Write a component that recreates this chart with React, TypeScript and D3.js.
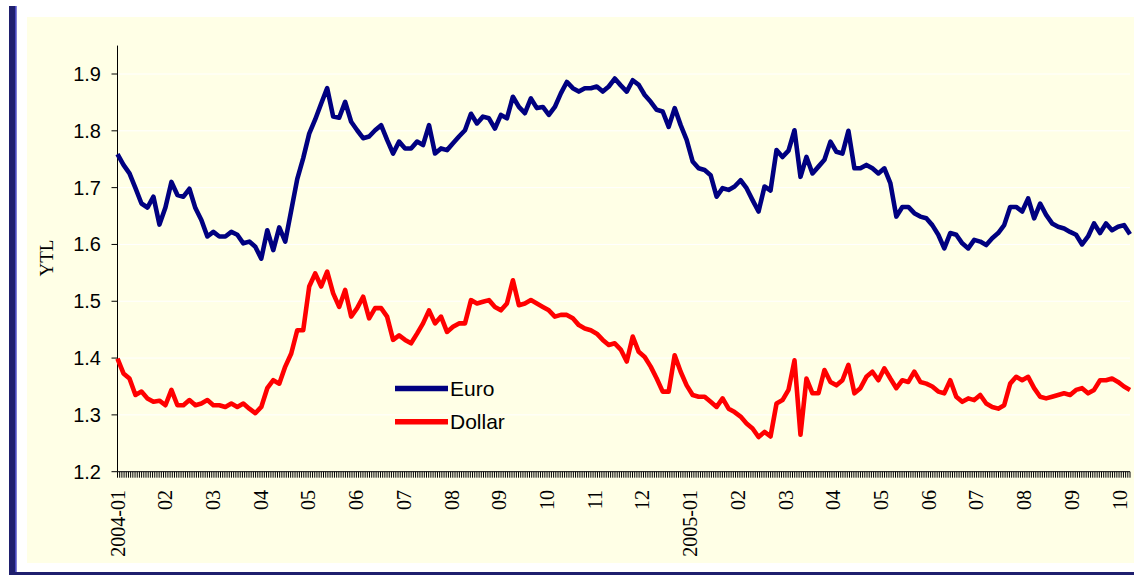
import React from "react";
import * as d3 from "d3";

const monthLabels = ["2004-01","02","03","04","05","06","07","08","09","10","11","12","2005-01","02","03","04","05","06","07","08","09","10"];
const yTicks = [1.2, 1.3, 1.4, 1.5, 1.6, 1.7, 1.8, 1.9];

const euro = [
1.759,1.740,1.725,1.699,1.672,1.665,1.684,1.635,1.665,1.710,
1.687,1.684,1.698,1.664,1.643,1.614,1.622,1.614,1.614,1.622,
1.617,1.602,1.605,1.596,1.575,1.625,1.590,1.630,1.605,1.660,
1.715,1.752,1.795,1.820,1.848,1.875,1.825,1.823,1.851,1.816,
1.801,1.787,1.790,1.801,1.810,1.784,1.760,1.781,1.769,1.769,
1.781,1.775,1.810,1.760,1.769,1.766,1.778,1.790,1.801,1.830,
1.813,1.825,1.822,1.804,1.828,1.822,1.860,1.842,1.831,1.857,
1.840,1.842,1.828,1.842,1.866,1.886,1.875,1.869,1.875,1.875,
1.878,1.869,1.878,1.892,1.880,1.869,1.889,1.881,1.863,1.851,
1.837,1.834,1.807,1.840,1.810,1.784,1.746,1.734,1.731,1.722,
1.684,1.699,1.696,1.702,1.713,1.699,1.678,1.658,1.702,1.695,
1.766,1.754,1.765,1.801,1.719,1.754,1.725,1.737,1.749,1.781,
1.763,1.760,1.800,1.734,1.734,1.740,1.734,1.725,1.734,1.708,
1.649,1.666,1.666,1.655,1.649,1.646,1.634,1.617,1.593,1.620,
1.617,1.602,1.593,1.608,1.605,1.599,1.611,1.620,1.634,1.666,
1.666,1.658,1.681,1.646,1.672,1.652,1.637,1.631,1.628,1.622,
1.617,1.600,1.614,1.637,1.620,1.637,1.625,1.631,1.634,1.618
];

const dollar = [
1.399,1.373,1.364,1.335,1.341,1.329,1.323,1.325,1.317,1.344,
1.317,1.317,1.326,1.317,1.320,1.326,1.317,1.317,1.314,1.320,
1.314,1.320,1.311,1.303,1.314,1.347,1.361,1.355,1.385,1.408,
1.449,1.449,1.526,1.549,1.526,1.552,1.514,1.490,1.520,1.473,
1.488,1.508,1.470,1.488,1.488,1.473,1.432,1.440,1.432,1.426,
1.443,1.461,1.484,1.461,1.473,1.446,1.455,1.461,1.461,1.502,
1.496,1.499,1.502,1.490,1.484,1.496,1.537,1.493,1.496,1.502,
1.496,1.490,1.484,1.473,1.476,1.476,1.470,1.458,1.452,1.449,
1.443,1.432,1.423,1.426,1.415,1.394,1.438,1.411,1.402,1.385,
1.364,1.341,1.341,1.405,1.376,1.352,1.335,1.332,1.332,1.323,
1.314,1.329,1.311,1.305,1.297,1.285,1.276,1.261,1.270,1.262,
1.320,1.326,1.344,1.396,1.265,1.364,1.338,1.338,1.379,1.358,
1.352,1.361,1.388,1.338,1.347,1.367,1.376,1.361,1.382,1.364,
1.347,1.361,1.358,1.376,1.358,1.355,1.350,1.341,1.338,1.361,
1.332,1.323,1.329,1.326,1.335,1.320,1.314,1.311,1.317,1.355,
1.367,1.361,1.367,1.347,1.332,1.329,1.332,1.335,1.338,1.335,
1.344,1.347,1.338,1.344,1.361,1.361,1.364,1.358,1.350,1.344
];

const seriesNames = ["Euro", "Dollar"];
const seriesColors = ["#000080", "#FF0000"];

export default function App() {
  const W = 1134, H = 575;
  const axisX = 117.5, plotRight = 1130;
  const y = d3.scaleLinear().domain([1.2, 1.9]).range([471.7, 74]);
  const xData = d3.scaleLinear().domain([0, euro.length - 1]).range([117.5, 1130]);
  const xMonth = d3.scaleLinear().domain([0, 21]).range([117.5, 1119.5]);
  const nDays = 462;
  const xDay = d3.scaleLinear().domain([0, nDays]).range([117.5, 1130]);
  const line = d3.line<number>().x((_, i) => xData(i)).y(d => y(d));
  const axisY = y(1.2);
  const topY = y(1.95);
  const dayTicks = d3.range(0, nDays + 1);

  return (
    <svg width={W} height={H} style={{ position: "absolute", left: 0, top: 0, background: "#fff" }}>
      <rect x={0} y={0} width={W} height={H} fill="#ffffff" />
      <rect x={27} y={17} width={W - 27} height={546} fill="#FFFFE6" />
      <rect x={9} y={6} width={6} height={H - 6} fill="#1F1F6E" />
      <rect x={15} y={6} width={1.7} height={H - 6} fill="#4A4AC0" />
      <rect x={9} y={572} width={W - 9} height={3} fill="#1F1F6E" />

      {yTicks.map(t => (
        <line key={"g" + t} x1={axisX} x2={plotRight} y1={y(t)} y2={y(t)} stroke="#ffffff" strokeWidth={1} />
      ))}

      {dayTicks.map(d => (
        <line key={"d" + d} x1={xDay(d)} x2={xDay(d)} y1={axisY} y2={axisY + 6} stroke="#000" strokeWidth={1} />
      ))}

      <line x1={axisX} x2={axisX} y1={topY} y2={axisY} stroke="#000" strokeWidth={1} />
      <line x1={axisX} x2={plotRight} y1={axisY} y2={axisY} stroke="#000" strokeWidth={1} />
      {yTicks.map(t => (
        <g key={"t" + t}>
          <line x1={axisX - 6} x2={axisX} y1={y(t)} y2={y(t)} stroke="#000" strokeWidth={1} />
          <text x={101} y={y(t)} dy="0.35em" textAnchor="end" fontFamily="Liberation Sans, Arial, sans-serif" fontSize={20} fill="#000">{t.toFixed(1)}</text>
        </g>
      ))}

      {monthLabels.map((m, i) => (
        <text key={"m" + i} transform={`translate(${xMonth(i)},490) rotate(-90)`} textAnchor="end" dy="0.35em"
          fontFamily="Liberation Serif, Times New Roman, serif" fontSize={20} fill="#000">{m}</text>
      ))}

      <text transform="translate(46,258) rotate(-90)" textAnchor="middle" dy="0.35em"
        fontFamily="Liberation Serif, Times New Roman, serif" fontSize={19} fill="#000">YTL</text>

      <path d={line(dollar) || ""} fill="none" stroke={seriesColors[1]} strokeWidth={4.6} strokeLinejoin="round" />
      <path d={line(euro) || ""} fill="none" stroke={seriesColors[0]} strokeWidth={4.6} strokeLinejoin="round" />

      {seriesNames.map((s, i) => (
        <g key={s}>
          <line x1={395} x2={448} y1={388.5 + i * 33.3} y2={388.5 + i * 33.3} stroke={seriesColors[i]} strokeWidth={5.5} />
          <text x={450} y={388.5 + i * 33.3} dy="0.35em" fontFamily="Liberation Sans, Arial, sans-serif" fontSize={21} fill="#000">{s}</text>
        </g>
      ))}
    </svg>
  );
}
